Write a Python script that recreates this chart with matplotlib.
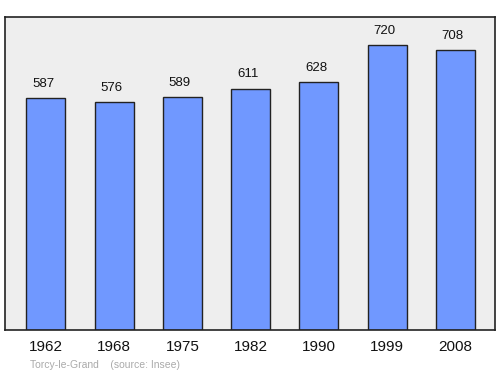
import matplotlib.pyplot as plt

years = ['1962', '1968', '1975', '1982', '1990', '1999', '2008']
population = [587, 576, 589, 611, 628, 720, 708]
source_text = 'Torcy-le-Grand    (source: Insee)'

plt.rcParams['font.family'] = ['Liberation Sans', 'DejaVu Sans']

fig = plt.figure(figsize=(5, 3.74), dpi=100)
# plot area: x 5..495, y 17..330 px
ax = fig.add_axes([5 / 500, 1 - 330 / 374, 490 / 500, 313 / 374])
ax.set_facecolor('#eeeeee')

pos = range(len(years))
ax.bar(pos, population, width=0.57, color='#7098ff', edgecolor='#222222', linewidth=1)

# value labels sit a bit left of the bar centre, like the original
for x, v in zip(pos, population):
    ax.text(x - 0.04, v + 36, str(v), ha='center', va='center', fontsize=9.5, color='#111111')

ax.set_xlim(-0.6, 6.58)
ax.set_ylim(0, 792)
ax.set_xticks(list(pos))
ax.set_xticklabels(years, fontsize=11, color='#111111')
ax.tick_params(axis='x', length=0, pad=7)
ax.set_yticks([])
for s in ax.spines.values():
    s.set_color('#222222')
    s.set_linewidth(1.2)

fig.text(30 / 500, 1 - 365 / 374, source_text, fontsize=7.5, color='#aaaaaa', va='center', ha='left')

fig.savefig('out.png', dpi=100)
